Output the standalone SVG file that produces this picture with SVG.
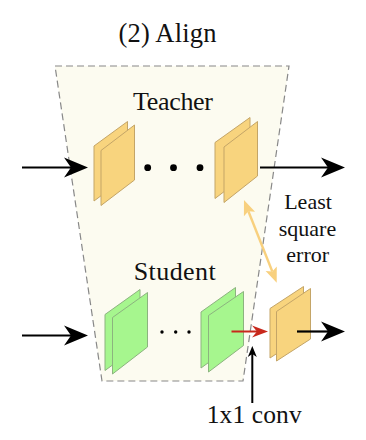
<svg xmlns="http://www.w3.org/2000/svg" width="366" height="440" viewBox="0 0 366 440">
  <style>
    .t { font-family: "Liberation Serif", "Times New Roman", Times, serif; fill: #111; text-anchor: middle; }
    .or { fill: #F8D47E; stroke: #C4A567; stroke-width: 1; stroke-linejoin: round; }
    .gr { fill: #A6F68E; stroke: #8CB37F; stroke-width: 1; stroke-linejoin: round; }
    .blk { stroke: #000; stroke-width: 2.2; fill: none; }
  </style>
  <defs>
    <marker id="bigHead" markerUnits="userSpaceOnUse" viewBox="-10 -12 30 24" refX="0" refY="0" markerWidth="30" markerHeight="24" orient="auto" overflow="visible">
      <path d="M17,0 L-7,-10 L0,0 L-7,10 Z" fill="#000"/>
    </marker>
    <marker id="redHead" markerUnits="userSpaceOnUse" viewBox="-8 -8 20 16" refX="0" refY="0" markerWidth="20" markerHeight="16" orient="auto" overflow="visible">
      <path d="M11,0 L-5,-6 L0,0 L-5,6 Z" fill="#C8281C"/>
    </marker>
    <marker id="smallHead" markerUnits="userSpaceOnUse" viewBox="-6 -6 16 12" refX="0" refY="0" markerWidth="16" markerHeight="12" orient="auto" overflow="visible">
      <path d="M8,0 L-3,-4.5 L0,0 L-3,4.5 Z" fill="#000"/>
    </marker>
    <marker id="orHead" markerUnits="userSpaceOnUse" viewBox="-6 -8 20 16" refX="0" refY="0" markerWidth="20" markerHeight="16" orient="auto-start-reverse" overflow="visible">
      <path d="M12,0 L-3,-6 L0,0 L-3,6 Z" fill="#F8D07E"/>
    </marker>
  </defs>

  <g id="title"><text class="t" x="167.5" y="41.5" font-size="26.5" textLength="98" lengthAdjust="spacing">(2) Align</text></g>

  <g id="align-region">
    <polygon points="55,66 289,66 243,381 102,381" fill="#FCFBF0" stroke="#888" stroke-width="1.2" stroke-dasharray="7,4"/>
  </g>

  <g id="teacher-label"><text class="t" x="173" y="110" font-size="26" textLength="80" lengthAdjust="spacing">Teacher</text></g>

  <g id="teacher-first">
    <polygon class="or" points="94,146 127.5,121.5 127.5,176 94,201"/>
    <polygon class="or" points="101,150.5 134.5,125 134.5,180 101,205.5"/>
  </g>
  <g id="teacher-dots" fill="#000">
    <circle cx="147.7" cy="167.7" r="3.4"/>
    <circle cx="173.5" cy="167.7" r="3.4"/>
    <circle cx="200" cy="167.7" r="3.4"/>
  </g>
  <g id="teacher-last">
    <polygon class="or" points="215,142.5 250,117.5 250,172 215,198.5"/>
    <polygon class="or" points="224,147 257.5,121.5 257.5,176 224,202.5"/>
  </g>

  <g id="student-label"><text class="t" x="174.7" y="280" font-size="26" textLength="82" lengthAdjust="spacing">Student</text></g>

  <g id="student-first">
    <polygon class="gr" points="105,314.5 140,289.5 140,345 105,370.5"/>
    <polygon class="gr" points="112.5,317.5 147.5,292.5 147.5,347 112.5,374"/>
  </g>
  <g id="student-dots" fill="#000">
    <circle cx="162" cy="332" r="1.7"/>
    <circle cx="175.7" cy="332" r="1.7"/>
    <circle cx="189" cy="332" r="1.7"/>
  </g>
  <g id="student-last">
    <polygon class="gr" points="201,312 235.5,287.5 235.5,343 201,368"/>
    <polygon class="gr" points="208.5,315.5 243.5,291.5 243.5,345.5 208.5,372"/>
  </g>

  <g id="aligned-output">
    <polygon class="or" points="270,308.5 303.5,286.5 303.5,336 270,358"/>
    <polygon class="or" points="276.5,311.5 310.5,288.5 310.5,339 276.5,361"/>
  </g>

  <g id="lse-label">
    <text class="t" x="308" y="209" font-size="22">Least</text>
    <text class="t" x="307.5" y="235.5" font-size="22">square</text>
    <text class="t" x="307.7" y="262" font-size="22">error</text>
  </g>

  <g id="conv-label"><text class="t" x="254.2" y="422.5" font-size="25.5" textLength="95" lengthAdjust="spacing">1x1 conv</text></g>

  <g id="connectors">
    <line class="blk" x1="22" y1="167.5" x2="71" y2="167.5" marker-end="url(#bigHead)"/>
    <line class="blk" x1="260" y1="167.5" x2="328" y2="167.5" marker-end="url(#bigHead)"/>
    <line class="blk" x1="22" y1="335.5" x2="71" y2="335.5" marker-end="url(#bigHead)"/>
    <line class="blk" x1="297" y1="331.5" x2="328" y2="331.5" marker-end="url(#bigHead)"/>
    <line x1="231.5" y1="331.5" x2="257" y2="331.5" stroke="#C8281C" stroke-width="2" marker-end="url(#redHead)"/>
    <line x1="252.3" y1="403" x2="252.3" y2="354" stroke="#000" stroke-width="2" marker-end="url(#smallHead)"/>
    <line x1="248.4" y1="211.2" x2="272.3" y2="271.5" stroke="#F8D07E" stroke-width="2.4" marker-start="url(#orHead)" marker-end="url(#orHead)"/>
  </g>
</svg>
